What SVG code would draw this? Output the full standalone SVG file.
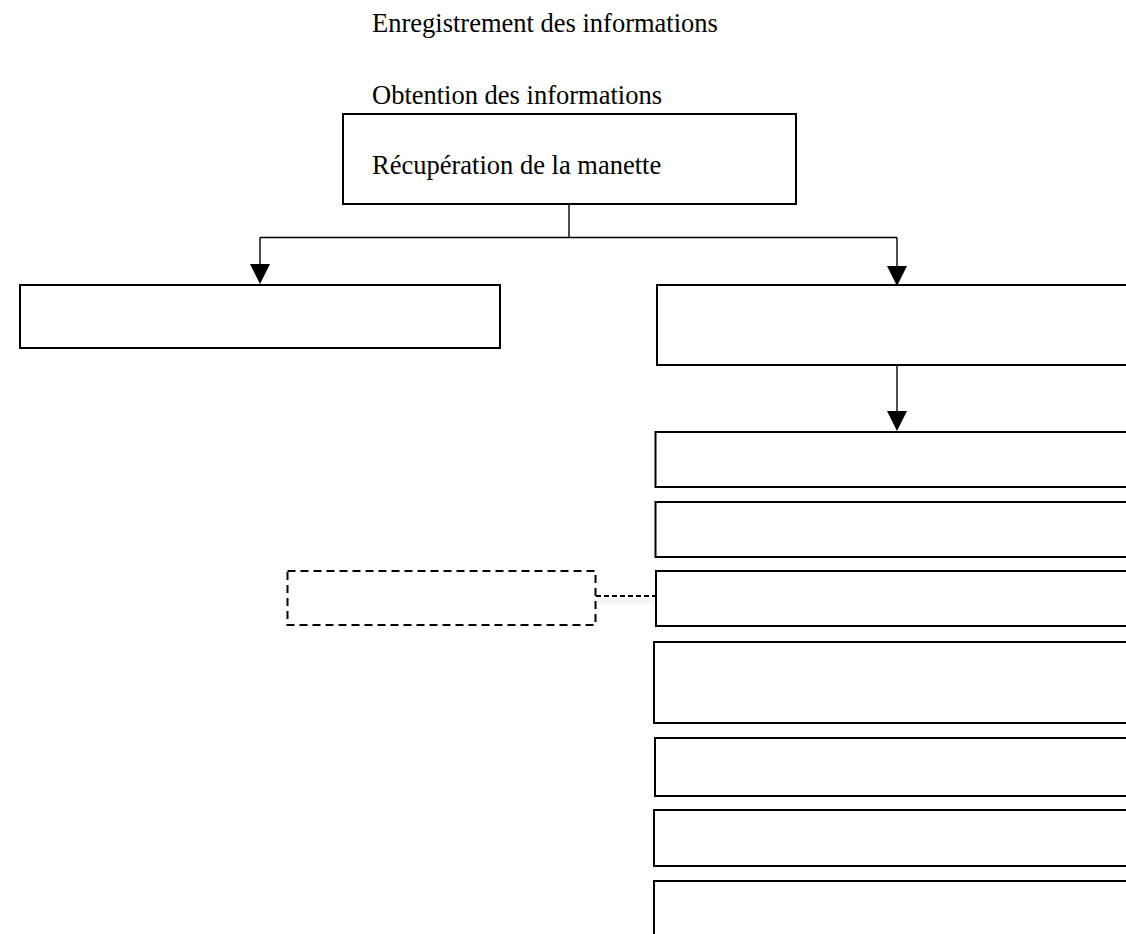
<svg xmlns="http://www.w3.org/2000/svg" width="1126" height="934" viewBox="0 0 1126 934">
<style>
.box{fill:#fff;stroke:#000;stroke-width:2}
.dash{fill:#fff;stroke:#000;stroke-width:2;stroke-dasharray:8,5}
.con{fill:none;stroke:#000;stroke-width:1.4}
.dcon{fill:none;stroke:#000;stroke-width:2;stroke-dasharray:5,3}
.head{fill:#000}
text{font-family:"Liberation Serif","Times New Roman",serif;font-size:26.5px;fill:#000}
</style>
<rect width="1126" height="934" fill="#fff"/>
<text x="372" y="32">Enregistrement des informations</text>
<text x="372" y="104">Obtention des informations</text>
<g id="connectors">
<path class="con" d="M569,204 V237.5 M260,237.5 H897 M260,237.5 V265 M897,237.5 V267 M897,365 V412"/>
<polygon class="head" points="250,264 270,264 260,284"/>
<polygon class="head" points="887,266 907,266 897,286"/>
<polygon class="head" points="887,411 907,411 897,431"/>
<rect x="600" y="598" width="56" height="6" fill="#000" opacity="0.04"/>
<path class="dcon" d="M596,596 H656"/>
</g>
<g id="n_recup"><rect class="box" x="343" y="114" width="453" height="90"/><text x="372" y="174">Récupération de la manette</text></g>
<g id="n_left"><rect class="box" x="20" y="285" width="480" height="63"/></g>
<g id="n_right"><rect class="box" x="657" y="285" width="480" height="80"/></g>
<g id="n_r1"><rect class="box" x="655.5" y="432" width="480" height="55"/></g>
<g id="n_r2"><rect class="box" x="655.5" y="502" width="480" height="55"/></g>
<g id="n_r3"><rect class="box" x="656" y="571" width="480" height="55"/></g>
<g id="n_dashed"><rect class="dash" x="287.5" y="571" width="308" height="54"/></g>
<g id="n_r4"><rect class="box" x="654" y="642" width="480" height="81"/></g>
<g id="n_r5"><rect class="box" x="655" y="738" width="480" height="58"/></g>
<g id="n_r6"><rect class="box" x="654" y="810" width="480" height="56"/></g>
<g id="n_r7"><rect class="box" x="654" y="881" width="480" height="80"/></g>
</svg>
